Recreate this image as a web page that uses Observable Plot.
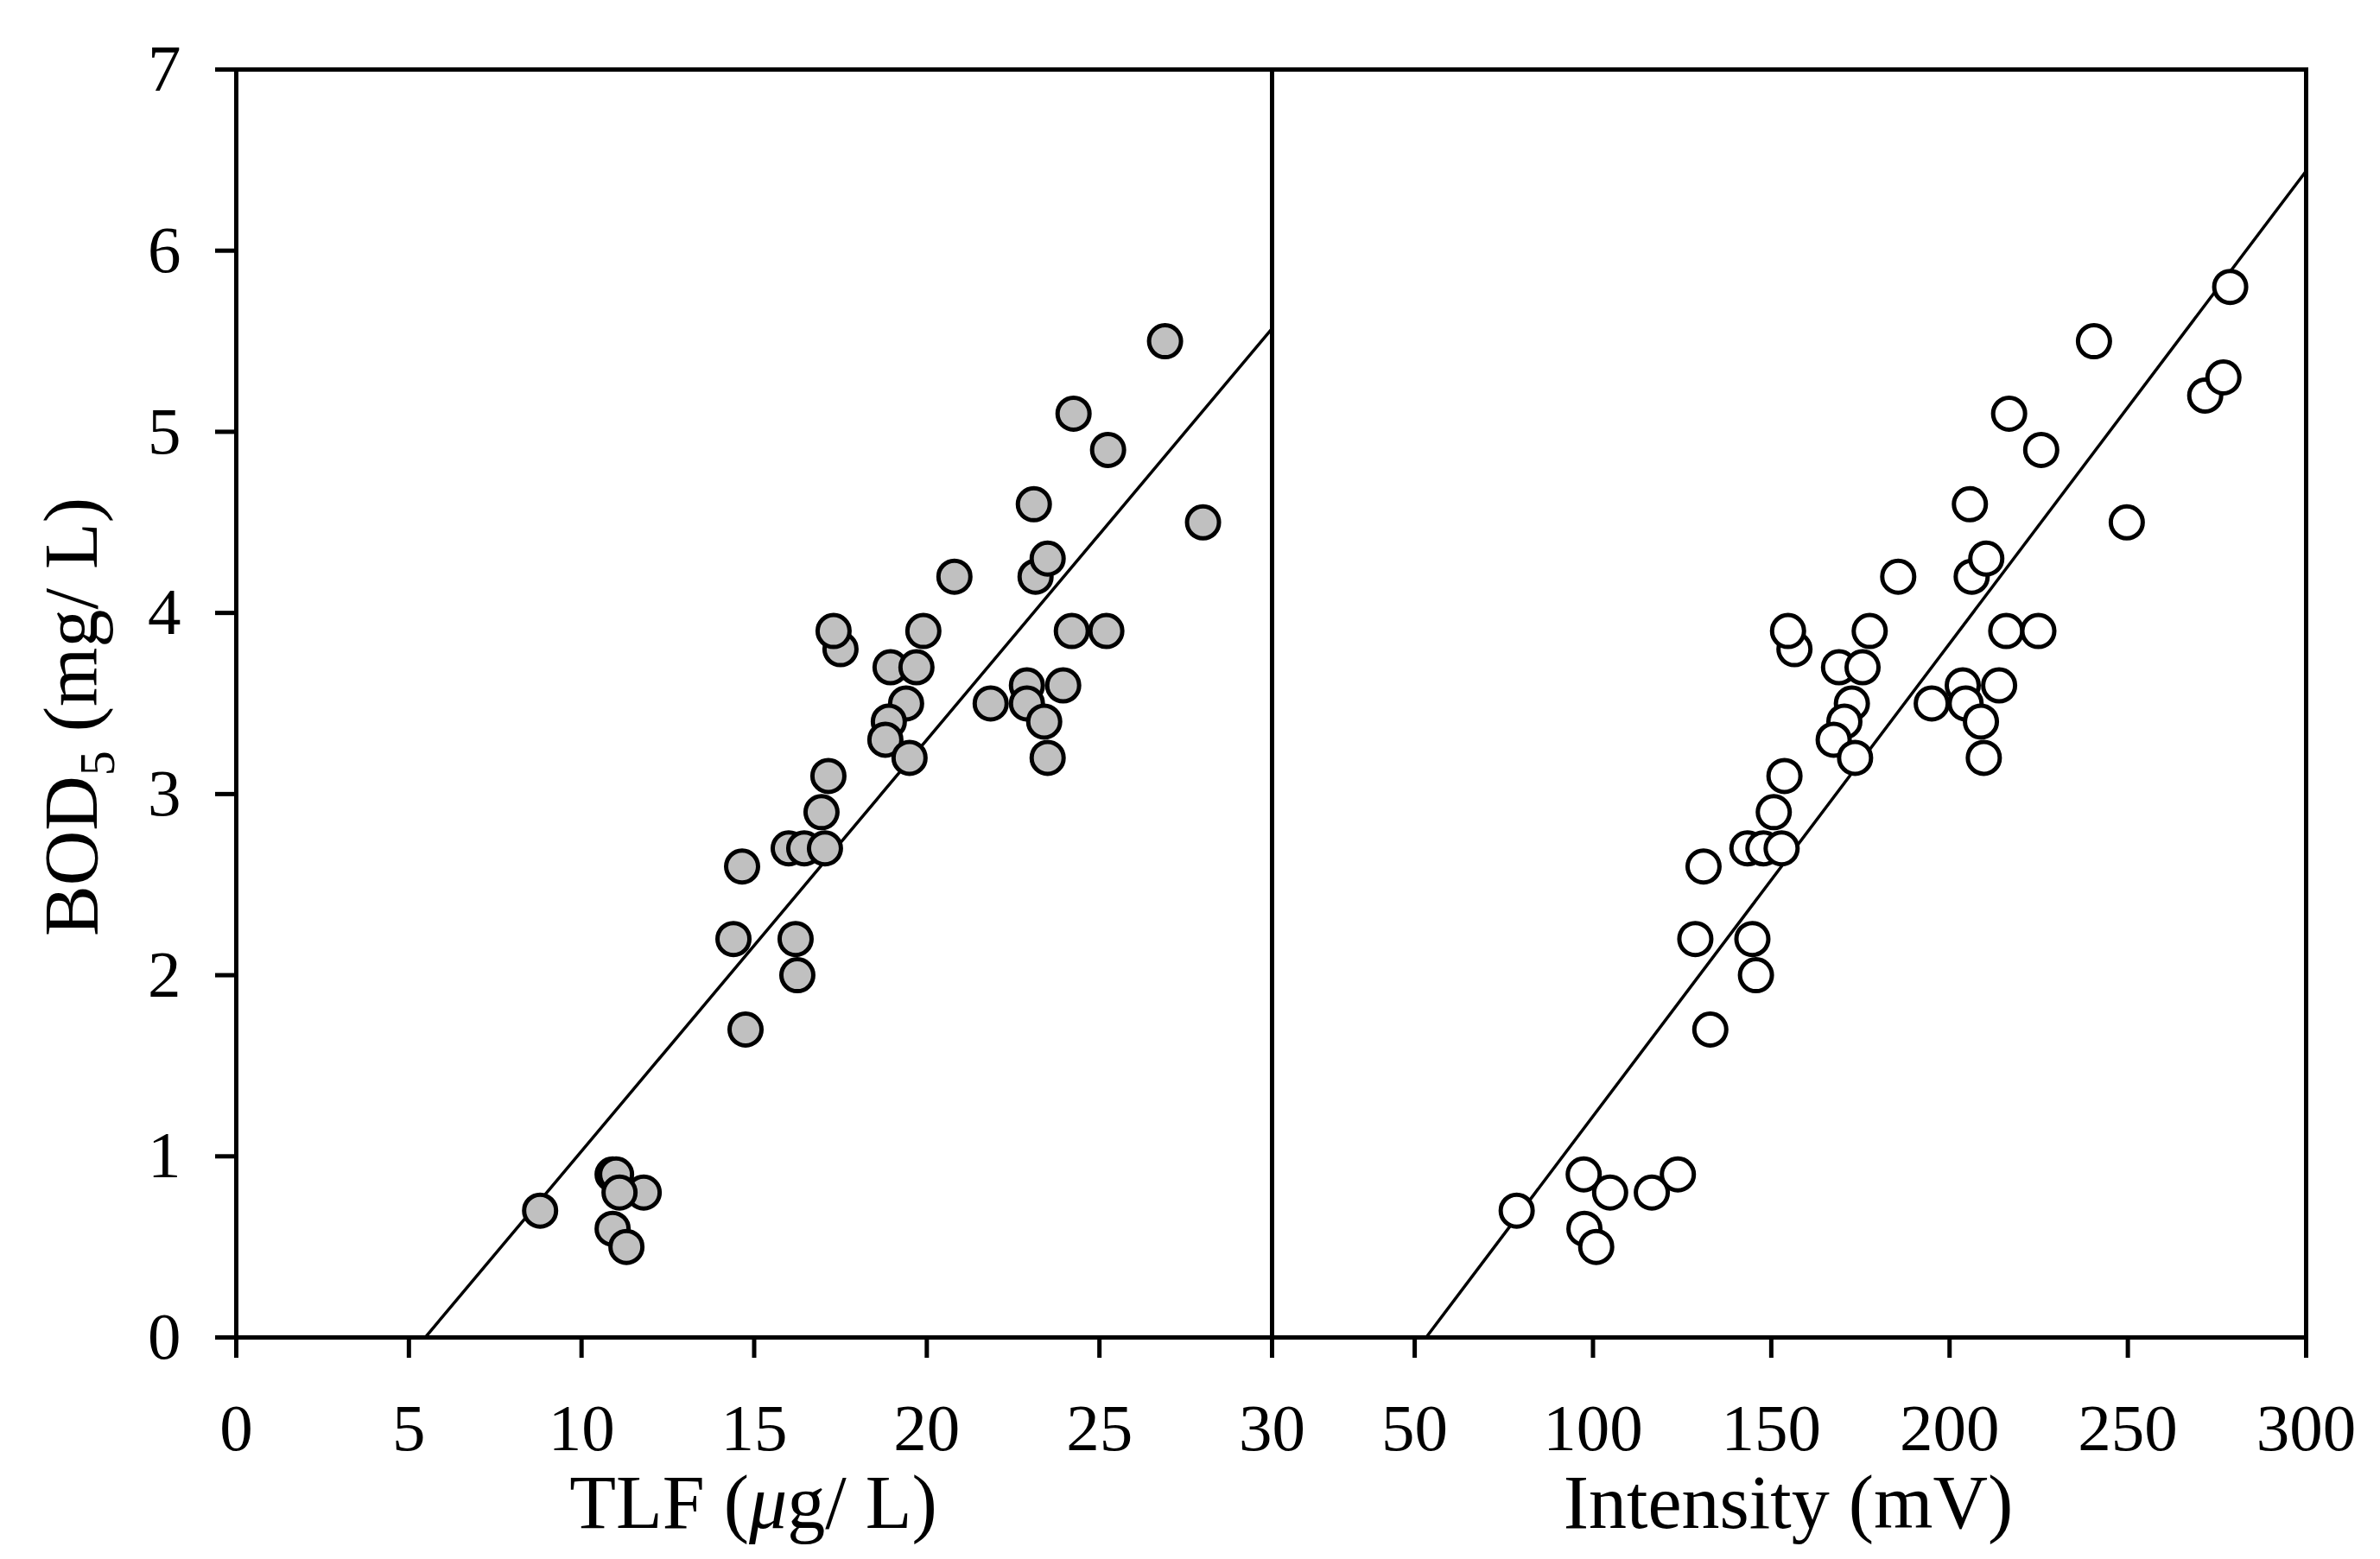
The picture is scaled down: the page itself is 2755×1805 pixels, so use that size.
<!DOCTYPE html>
<html>
<head>
<meta charset="utf-8">
<script src="https://cdn.jsdelivr.net/npm/d3@7"></script>
<script src="https://cdn.jsdelivr.net/npm/@observablehq/plot@0.6"></script>
<style>
  html, body { margin: 0; padding: 0; background: white; }
  #wrap { position: relative; width: 2755px; height: 1805px; background: white; overflow: hidden; }
  #wrap svg { position: absolute; top: 0; max-width: none !important; }
</style>
</head>
<body>
<div id="wrap"></div>
<script>
// ---- data ----
const bodLeft = [0.7, 0.9, 0.9, 0.8, 0.8, 0.6, 0.5, 2.2, 2.6, 1.7, 2.2, 2.0, 2.7, 2.7, 2.7, 2.9, 3.1, 3.8, 3.9,
  3.9, 3.7, 3.7, 3.5, 3.4, 3.3, 3.2, 4.2, 4.6, 4.2, 4.3, 5.1, 4.9, 5.5, 4.5, 3.5, 3.6, 3.5, 3.6, 3.4, 3.2, 3.9, 3.9];
const tlf = [8.8, 10.9, 11.0, 11.8, 11.1, 10.9, 11.3, 14.4, 14.65, 14.75, 16.2, 16.25, 16.0, 16.45, 17.05, 16.95, 17.15, 17.5, 17.3,
  19.9, 18.95, 19.7, 19.4, 18.9, 18.8, 19.5, 20.8, 23.1, 23.15, 23.5, 24.25, 25.25, 26.9, 28.0, 21.85, 22.9, 22.9, 23.95, 23.4, 23.5, 24.2, 25.2];

const bodRight = [0.7, 0.9, 0.9, 0.8, 0.8, 0.6, 0.5, 2.2, 2.6, 1.7, 2.2, 2.0, 2.7, 2.7, 2.7, 2.9, 3.1, 3.8, 3.9,
  3.9, 3.7, 3.7, 3.5, 3.4, 3.3, 3.2, 4.2, 4.6, 4.2, 4.3, 5.1, 4.9, 5.5, 4.5, 3.5, 3.6, 3.5, 3.6, 3.4, 3.2, 3.9, 3.9, 5.2, 5.3, 5.8];
const intensity = [78.6, 97.4, 123.8, 104.8, 116.5, 97.6, 100.9, 128.7, 131.0, 132.9, 144.7, 145.7, 143.3, 147.8, 152.9, 150.7, 153.7, 156.5, 154.7,
  177.6, 169.0, 175.6, 172.6, 170.5, 167.5, 173.5, 185.6, 205.7, 206.2, 210.3, 216.7, 225.7, 240.5, 249.7, 195.0, 203.7, 204.5, 213.9, 208.8, 209.6, 215.9, 224.9, 271.7, 276.8, 278.7];

// regression line end points
const fitLeftX = [5.47, 30];
const fitLeftY = [0, 5.57];
const fitRightX = [53.2, 300];
const fitRightY = [0, 6.44];

const yTicks = [0, 1, 2, 3, 4, 5, 6, 7];
const xTicksLeft = [0, 5, 10, 15, 20, 25, 30];
const xTicksRight = [50, 100, 150, 200, 250, 300];

// ---- build tables ----
const left = tlf.map((x, i) => ({x, y: bodLeft[i]}));
const right = intensity.map((x, i) => ({x, y: bodRight[i]}));
const fitL = fitLeftX.map((x, i) => ({x, y: fitLeftY[i]}));
const fitR = fitRightX.map((x, i) => ({x, y: fitRightY[i]}));

const FONT = "'Liberation Serif', 'Times New Roman', serif";
const fmt = d => String(d);
const common = {
  height: 1805,
  marginTop: 80,
  marginBottom: 257,
  style: {fontFamily: FONT, fontSize: "77px", overflow: "visible", background: "transparent", color: "black"},
  y: {domain: [0, 7]}
};

const plotL = Plot.plot({
  ...common,
  width: 1472,
  marginLeft: 273,
  marginRight: 0,
  x: {domain: [0, 30]},
  marks: [
    Plot.line(fitL, {x: "x", y: "y", stroke: "black", strokeWidth: 3.5}),
    Plot.dot(left, {x: "x", y: "y", r: 18.5, fill: "#c0c0c0", stroke: "black", strokeWidth: 5}),
    Plot.frame({stroke: "black", strokeWidth: 5}),
    Plot.axisX({ticks: xTicksLeft, tickFormat: fmt, tickSize: 24, tickPadding: 52, strokeWidth: 5, label: null, fontSize: 77}),
    Plot.axisY({ticks: yTicks, tickFormat: fmt, tickSize: 24, tickPadding: 40, strokeWidth: 5, label: null, fontSize: 77})
  ]
});

const plotR = Plot.plot({
  ...common,
  width: 1283,
  marginLeft: 0,
  marginRight: 86,
  x: {domain: [10, 300]},
  y: {domain: [0, 7], axis: null},
  marks: [
    Plot.line(fitR, {x: "x", y: "y", stroke: "black", strokeWidth: 3.5}),
    Plot.dot(right, {x: "x", y: "y", r: 18.5, fill: "white", stroke: "black", strokeWidth: 5}),
    Plot.frame({stroke: "black", strokeWidth: 5}),
    Plot.axisX({ticks: xTicksRight, tickFormat: fmt, tickSize: 24, tickPadding: 52, strokeWidth: 5, label: null, fontSize: 77})
  ]
});

const wrap = document.getElementById("wrap");
plotR.style.left = "1472px";
plotL.style.left = "0px";
wrap.appendChild(plotR);
wrap.appendChild(plotL);

// axis titles
const sL = d3.select(plotL);
const yt = sL.append("text")
  .attr("transform", "translate(112,830) rotate(-90)")
  .attr("text-anchor", "middle")
  .attr("font-family", FONT)
  .attr("font-size", 88)
  .attr("fill", "black");
yt.append("tspan").text("BOD");
yt.append("tspan").attr("font-size", 58).attr("dy", 20).text("5");
yt.append("tspan").attr("dy", -20).text(" (mg/ L)");

const xt = sL.append("text")
  .attr("x", 872).attr("y", 1769)
  .attr("text-anchor", "middle")
  .attr("font-family", FONT)
  .attr("font-size", 88)
  .attr("fill", "black");
xt.append("tspan").text("TLF (");
xt.append("tspan").attr("font-style", "italic").text("\u03BC");
xt.append("tspan").text("g/ L)");

d3.select(plotR).append("text")
  .attr("x", 598).attr("y", 1769)
  .attr("text-anchor", "middle")
  .attr("font-family", FONT)
  .attr("font-size", 88)
  .attr("fill", "black")
  .text("Intensity (mV)");
</script>
</body>
</html>
